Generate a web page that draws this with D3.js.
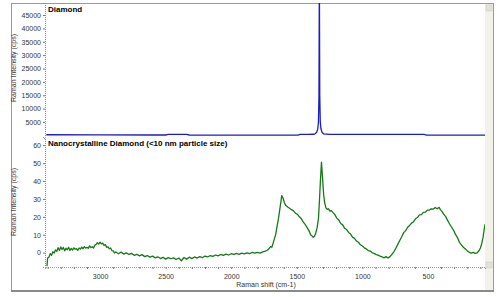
<!DOCTYPE html>
<html>
<head>
<meta charset="utf-8">
<script src="https://cdn.jsdelivr.net/npm/d3@7"></script>
<style>
  body { margin: 0; background: #fff; }
  svg { display: block; font-family: "Liberation Sans", Arial, sans-serif; }
</style>
</head>
<body>
<article></article>
<script>
// Diamond spectrum (Raman shift cm-1, counts)
const diamondShift = [3410, 3000, 2600, 2500, 2480, 2400, 2340, 2320, 2000, 1700, 1490, 1476, 1420, 1370, 1360, 1348, 1340, 1335, 1331, 1328, 1325, 1321, 1316, 1308, 1296, 1250, 900, 700, 530, 511, 300, 120, 65];
const diamondCps   = [250, 200, 150, 150, 380, 400, 350, 150, 100, 100, 100, 380, 380, 420, 600, 1200, 2500, 5000, 15000, 60000, 15000, 5000, 2500, 1200, 600, 380, 380, 380, 380, 100, 100, 100, 100];

// Nanocrystalline diamond spectrum
const ncdShift = [3405, 3400, 3390, 3380, 3370, 3360, 3350, 3340, 3330, 3320, 3310, 3300, 3290, 3280, 3270, 3260, 3250, 3240, 3230, 3220, 3210, 3200, 3190, 3180, 3170, 3160, 3150, 3140, 3130, 3120, 3110, 3100, 3090, 3080, 3070, 3060, 3050, 3040, 3030, 3020, 3010, 3000, 2990, 2980, 2970, 2960, 2950, 2940, 2930, 2920, 2910, 2900, 2890, 2880, 2860, 2840, 2820, 2800, 2780, 2760, 2740, 2720, 2700, 2680, 2660, 2640, 2620, 2600, 2580, 2560, 2540, 2520, 2500, 2480, 2460, 2440, 2420, 2400, 2380, 2360, 2340, 2320, 2300, 2280, 2260, 2240, 2220, 2200, 2180, 2160, 2140, 2120, 2100, 2080, 2060, 2040, 2020, 2000, 1980, 1960, 1940, 1920, 1900, 1880, 1860, 1840, 1820, 1800, 1780, 1760, 1740, 1720, 1700, 1690, 1680, 1670, 1660, 1650, 1640, 1630, 1620, 1615, 1605, 1595, 1585, 1570, 1555, 1540, 1525, 1510, 1495, 1480, 1465, 1450, 1435, 1420, 1405, 1395, 1385, 1375, 1365, 1355, 1345, 1335, 1328, 1320, 1312, 1304, 1296, 1288, 1278, 1268, 1258, 1248, 1238, 1225, 1210, 1195, 1180, 1165, 1150, 1135, 1120, 1105, 1090, 1075, 1060, 1045, 1030, 1015, 1000, 985, 970, 955, 940, 925, 910, 895, 880, 865, 850, 835, 820, 805, 790, 775, 760, 745, 730, 715, 700, 685, 670, 655, 640, 625, 610, 595, 580, 565, 550, 535, 520, 505, 490, 475, 460, 445, 430, 415, 405, 395, 380, 365, 350, 335, 320, 305, 290, 275, 260, 245, 230, 215, 200, 185, 170, 155, 140, 125, 110, 100, 90, 80, 70, 65];
const ncdCps   = [-7.5, -3, -2.5, -0.5, -1.5, 0.5, -0.2, 1.5, 0.8, 2.8, 1.2, 3.2, 1.8, 2.9, 1.0, 2.5, 1.6, 3.0, 1.2, 2.4, 1.5, 2.7, 1.9, 2.2, 1.3, 2.6, 2.0, 3.1, 2.2, 3.4, 2.5, 3.0, 2.4, 3.8, 2.9, 3.3, 2.6, 4.2, 4.6, 5.6, 4.8, 5.9, 4.9, 5.3, 4.0, 4.5, 3.0, 3.3, 2.2, 2.6, 1.2, 1.0, -0.2, 0.4, -0.6, 0.3, -0.8, -0.1, -1.0, -0.4, -1.5, -0.9, -1.8, -1.1, -2.2, -1.6, -2.5, -1.9, -2.9, -2.3, -3.3, -2.6, -3.6, -2.8, -3.4, -2.9, -3.8, -3.0, -4.5, -2.7, -3.6, -2.5, -3.3, -2.4, -3.0, -2.2, -2.8, -1.9, -2.4, -1.6, -2.1, -1.3, -1.8, -1.0, -1.5, -0.8, -1.3, -0.6, -1.0, -0.4, -0.9, -0.3, -0.7, -0.1, -0.5, 0.1, -0.3, 0.2, -0.2, 0.4, 0.8, 1.6, 3.4, 3.0, 5.5, 8.0, 10.5, 15, 19, 24, 29, 31.8, 30.5, 28, 26.5, 25.5, 24.8, 24.0, 23.3, 22.0, 21.4, 20.0, 18.9, 17.0, 15.6, 13.8, 11.9, 10.0, 9.4, 8.6, 9.2, 11.0, 14.0, 19, 28, 40, 50.5, 42, 33, 28, 25, 24.2, 24.5, 23.2, 23.5, 22.5, 21.2, 19.3, 18.2, 16.3, 15.5, 13.6, 12.9, 11.3, 10.4, 8.7, 8.0, 6.5, 5.8, 4.4, 3.7, 2.7, 2.1, 1.2, 0.9, -0.1, -0.4, -1.1, -1.4, -1.9, -2.3, -2.9, -2.2, -3.0, -2.2, -1.0, 0.5, 2.5, 4.6, 6.8, 8.9, 11.2, 12.3, 14.2, 15.2, 16.5, 17.3, 18.9, 19.6, 21.1, 21.2, 22.5, 22.6, 23.7, 23.7, 24.5, 24.3, 25.2, 24.5, 25.3, 24.0, 23.2, 21.5, 20.1, 18.0, 16.0, 14.2, 12.5, 10.2, 8.4, 5.8, 4.3, 3.0, 2.0, 1.0, 0.2, -0.2, 0.2, -0.4, -0.1, 1.2, 2.6, 5.0, 8.5, 13.5, 15.8];

// tick labels
const xTicks = [3000, 2500, 2000, 1500, 1000, 500];
const topTicks = [5000, 10000, 15000, 20000, 25000, 30000, 35000, 40000, 45000];
const bottomTicks = [0, 10, 20, 30, 40, 50, 60];

const W = 500, H = 297;
const left = 45, right = 485;

const svg = d3.select("article").append("svg")
  .attr("width", W).attr("height", H);

// outer frame
svg.append("rect").attr("x", 11.5).attr("y", 3.5).attr("width", 482).attr("height", 287)
  .attr("fill", "#fff").attr("stroke", "#9a9a9a");
svg.append("line").attr("x1", 11).attr("x2", 494).attr("y1", 291).attr("y2", 291)
  .attr("stroke", "#8a8a8a").attr("stroke-width", 2);

// scrollbar strip on the right
svg.append("rect").attr("x", 485).attr("y", 4).attr("width", 8).attr("height", 286).attr("fill", "#f3f2ea");
svg.append("rect").attr("x", 486).attr("y", 5).attr("width", 6).attr("height", 6).attr("fill", "#e4e2d8").attr("stroke", "#c8c6bc").attr("stroke-width", 0.5);
svg.append("rect").attr("x", 486).attr("y", 262).attr("width", 6).attr("height", 6).attr("fill", "#e4e2d8").attr("stroke", "#c8c6bc").attr("stroke-width", 0.5);

// scales
const x = d3.scaleLinear().domain([3420, 65]).range([left, right]);
const yTop = d3.scaleLinear().domain([-600, 49500]).range([137, 3]);
const yBot = d3.scaleLinear().domain([-8, 64]).range([267, 138]);

svg.append("clipPath").attr("id", "clipTop").append("rect")
  .attr("x", left).attr("y", 3).attr("width", right - left).attr("height", 134);
svg.append("clipPath").attr("id", "clipBot").append("rect")
  .attr("x", left).attr("y", 138).attr("width", right - left).attr("height", 130);

// y axes (dotted line with small ticks)
function yAxis(scale, ticks, fmt) {
  const g = svg.append("g").attr("transform", "translate(" + left + ",0)")
    .call(d3.axisLeft(scale).tickValues(ticks).tickSize(2).tickPadding(2).tickFormat(fmt));
  g.select(".domain").attr("stroke", "#888").attr("stroke-dasharray", "1,1");
  g.selectAll(".tick line").attr("stroke", "#777");
  g.selectAll("text").attr("font-size", 7).attr("fill", "#333");
  return g;
}
yAxis(yTop, topTicks, d3.format("d"));
yAxis(yBot, bottomTicks, d3.format("d"));

// x axis with minor ticks every 100
const xg = svg.append("g").attr("transform", "translate(0,267)")
  .call(d3.axisBottom(x).tickValues(d3.range(100, 3401, 100)).tickSize(2).tickPadding(5)
    .tickFormat(d => xTicks.includes(d) ? d : ""));
xg.select(".domain").attr("stroke", "#999").attr("stroke-dasharray", "1,1");
xg.selectAll(".tick line").attr("stroke", "#777");
xg.selectAll("text").attr("font-size", 7).attr("fill", "#333");

// axis titles
svg.append("text").attr("x", 266).attr("y", 287).attr("text-anchor", "middle")
  .attr("font-size", 7).attr("fill", "#333").text("Raman shift (cm-1)");
[68, 202].forEach(cy => {
  svg.append("text").attr("transform", "translate(16," + cy + ") rotate(-90)")
    .attr("text-anchor", "middle").attr("font-size", 7).attr("fill", "#333")
    .text("Raman Intensity (cps)");
});

// panel titles
svg.append("text").attr("x", 48).attr("y", 12).attr("font-size", 8).attr("font-weight", "bold").text("Diamond");
svg.append("text").attr("x", 48).attr("y", 146).attr("font-size", 8).attr("font-weight", "bold")
  .text("Nanocrystalline Diamond (<10 nm particle size)");

// spectra
const blueLine = d3.line().x((d, i) => x(diamondShift[i])).y(d => yTop(d));
svg.append("path").datum(diamondCps).attr("clip-path", "url(#clipTop)")
  .attr("d", blueLine).attr("fill", "none").attr("stroke", "#1c1cc4").attr("stroke-width", 1.3);

const greenLine = d3.line().x((d, i) => x(ncdShift[i])).y(d => yBot(d));
svg.append("path").datum(ncdCps).attr("clip-path", "url(#clipBot)")
  .attr("d", greenLine).attr("fill", "none").attr("stroke", "#157a15").attr("stroke-width", 1.3)
  .attr("stroke-linejoin", "round");
</script>
</body>
</html>
